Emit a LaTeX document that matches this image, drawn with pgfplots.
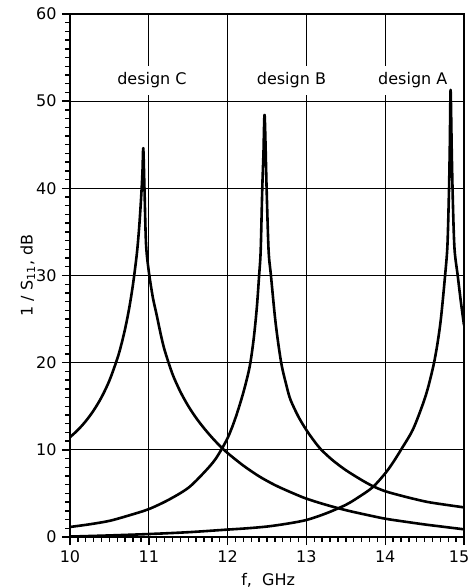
\documentclass[border=0pt]{standalone}
\usepackage{pgfplots}
\pgfplotsset{compat=1.18}
\usepackage{fontspec}
\setmainfont{DejaVu Sans}
\begin{document}
\fontsize{16}{19}\selectfont
\begin{tikzpicture}
\path[use as bounding box] (-70pt,-51pt) rectangle (400pt,537pt);
\begin{axis}[
  at={(0,0)}, anchor=south west, scale only axis,
  width=394pt, height=523pt,
  xmin=10, xmax=15, ymin=0, ymax=60,
  xtick={10,11,12,13,14,15}, ytick={0,10,20,30,40,50,60},
  xticklabels={10,11,12,13,14,\hspace*{-10pt}15},
  minor x tick num=9, minor y tick num=9,
  tick align=outside, tick pos=left,
  major tick length=8pt, minor tick length=4.5pt,
  every tick/.style={black, line width=1.4pt},
  grid=major, major grid style={black, line width=1pt},
  axis line style={black, line width=1.5pt},
  /pgf/number format/assume math mode=true,
  tick label style={font=\fontsize{16}{19}\selectfont},
  label style={font=\fontsize{16}{19}\selectfont},
  xlabel={f,\ \ GHz},
  ylabel={1 / S\textsubscript{11}, dB},
  xlabel style={at={(axis description cs:0.503,-0.082)}, anchor=center},
  ylabel style={at={(axis description cs:-0.107,0.5)}, anchor=center},
]
% design C
\addplot[black, line width=2.6pt, line join=round, smooth, tension=0.5] coordinates {
(10.0,11.45) (10.1,12.28) (10.2,13.29) (10.3,14.52) (10.4,16.03) (10.5,17.94) (10.6,20.45)
(10.65,22.03) (10.7,23.91) (10.75,26.19) (10.8,29.02) (10.85,32.64) (10.88,35.8) (10.905,39.3)
(10.92,42) (10.93,44.6) (10.945,40) (10.965,33.6) (11.0,30.46) (11.05,27.55) (11.1,25.47)
(11.15,23.32) (11.2,21.46) (11.3,18.71) (11.4,16.68) (11.5,15.04) (11.6,13.67) (11.7,12.49)
(11.8,11.43) (11.9,10.47) (12.0,9.63) (12.2,8.19) (12.4,6.96) (12.6,5.96) (12.8,5.14)
(13.0,4.4) (13.25,3.69) (13.5,3.08) (13.75,2.57) (14.0,2.1) (14.25,1.76) (14.5,1.44)
(14.75,1.16) (15.0,0.88)
};
% design B
\addplot[black, line width=2.6pt, line join=round, smooth, tension=0.5] coordinates {
(10.0,1.15) (10.25,1.46) (10.5,1.85) (10.75,2.48) (11.0,3.2) (11.25,4.26) (11.5,5.63)
(11.7,7.39) (11.85,8.99) (12.0,11.35) (12.1,13.66) (12.2,16.58) (12.28,19.54) (12.33,22.66)
(12.37,26.22) (12.40,30) (12.42,32.9) (12.44,40) (12.455,44) (12.47,48.4)
(12.495,40) (12.52,32.9) (12.55,30) (12.61,24.5) (12.68,20) (12.75,17.26) (12.80,15.7)
(12.9,13.78) (13.0,12.27) (13.1,10.99) (13.19,10.0) (13.33,8.83) (13.5,7.67) (13.7,6.54)
(13.84,5.85) (14.0,5.25) (14.25,4.63) (14.52,4.05) (14.75,3.72) (15.0,3.4)
};
% design A
\addplot[black, line width=2.6pt, line join=round, smooth, tension=0.5] coordinates {
(10.0,0.05) (10.5,0.18) (11.0,0.34) (11.5,0.55) (12.0,0.85) (12.25,1.0) (12.5,1.2)
(12.75,1.52) (13.0,1.95) (13.25,2.71) (13.5,3.69) (13.65,4.5) (13.84,5.7) (14.0,7.3)
(14.1,8.56) (14.2,10.0) (14.35,12.3) (14.48,15.3) (14.55,17.35) (14.62,20) (14.67,22.58)
(14.71,25.3) (14.76,30) (14.79,33.5) (14.81,40) (14.82,45) (14.83,51.3)
(14.845,44) (14.86,38) (14.88,33) (14.92,30) (14.96,27) (15.0,24.3)
};
\node[fill=white, inner xsep=2pt, inner ysep=7pt] at (axis cs:11.04,52.4) {design C};
\node[fill=white, inner xsep=2pt, inner ysep=7pt] at (axis cs:12.81,52.4) {design B};
\node[fill=white, inner xsep=2pt, inner ysep=7pt] at (axis cs:14.35,52.4) {design A};
\end{axis}
\end{tikzpicture}
\end{document}
